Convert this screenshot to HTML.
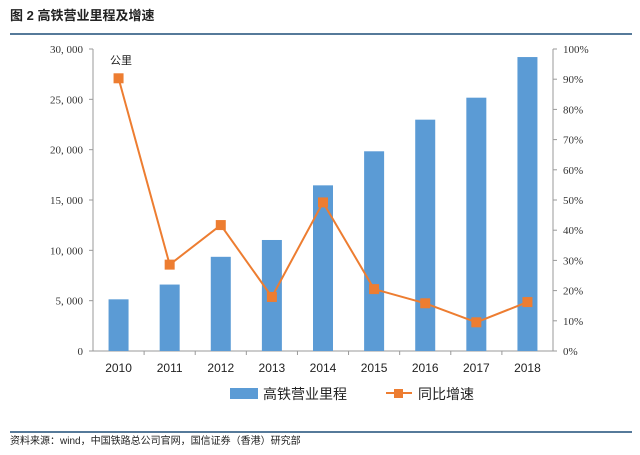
<!DOCTYPE html>
<html><head><meta charset="utf-8"><style>
body{margin:0;background:#fff;width:640px;height:450px;overflow:hidden;font-family:"Liberation Sans","Noto Sans CJK SC",sans-serif}
</style></head><body>
<svg width="640" height="450" xmlns="http://www.w3.org/2000/svg">
<text x="10" y="20" font-size="13" font-weight="bold" fill="#222" font-family="Liberation Sans,Noto Sans CJK SC,sans-serif">图 2  高铁营业里程及增速</text>
<line x1="10" y1="34" x2="632" y2="34" stroke="#1f4e79" stroke-width="1.5"/>
<line x1="10" y1="432" x2="632" y2="432" stroke="#1f4e79" stroke-width="1.5"/>
<text x="10" y="444" font-size="10" fill="#222" font-family="Liberation Sans,Noto Sans CJK SC,sans-serif">资料来源：wind，中国铁路总公司官网，国信证券（香港）研究部</text>
<text x="110" y="64" font-size="11" fill="#222" font-family="Liberation Sans,Noto Sans CJK SC,sans-serif">公里</text>
<g id="g"></g>
<rect x="230" y="388" width="28" height="11" fill="#5b9bd5"/>
<text x="263" y="399" font-size="14" fill="#222" font-family="Liberation Sans,Noto Sans CJK SC,sans-serif">高铁营业里程</text>
<line x1="386" y1="393" x2="412" y2="393" stroke="#ed7d31" stroke-width="2"/>
<rect x="394" y="389" width="9" height="9" fill="#ed7d31"/>
<text x="418" y="399" font-size="14" fill="#222" font-family="Liberation Sans,Noto Sans CJK SC,sans-serif">同比增速</text>
</svg>
<script>
const categories=["2010","2011","2012","2013","2014","2015","2016","2017","2018"];
const mileage=[5133,6601,9356,11028,16456,19838,22980,25164,29200];
const growth=[90.3,28.6,41.7,17.9,49.2,20.5,15.8,9.5,16.2];
const leftTicks=[0,5000,10000,15000,20000,25000,30000];
const rightTicks=[0,10,20,30,40,50,60,70,80,90,100];
const NS="http://www.w3.org/2000/svg",g=document.getElementById('g');
const X0=93,X1=553,Y0=351,Y1=49,bw=(X1-X0)/categories.length;
const yL=v=>Y0-(v/30000)*(Y0-Y1), yR=v=>Y0-(v/100)*(Y0-Y1), xc=i=>X0+bw*(i+0.5);
function mk(t,a){const e=document.createElementNS(NS,t);for(const k in a)e.setAttribute(k,a[k]);g.appendChild(e);return e;}
let e;
e=mk('line',{x1:X0,y1:Y1,x2:X0,y2:Y0,stroke:'#999'});


e=mk('line',{x1:X1,y1:Y1,x2:X1,y2:Y0,stroke:'#999'});


e=mk('line',{x1:X0,y1:Y0,x2:X1,y2:Y0,stroke:'#999'});


leftTicks.forEach(v=>{
 mk('line',{x1:X0-4,y1:yL(v),x2:X0,y2:yL(v),stroke:'#999'});
 e=mk('text',{x:X0-10,y:yL(v)+4,'font-size':11,'text-anchor':'end',fill:'#333','font-family':'Liberation Serif,serif'});
 e.textContent=v===0?'0':v.toLocaleString('en-US').replace(',',', ');
 
 
});
rightTicks.forEach(v=>{
 mk('line',{x1:X1,y1:yR(v),x2:X1+4,y2:yR(v),stroke:'#999'});
 e=mk('text',{x:X1+10,y:yR(v)+4,'font-size':11,fill:'#333','font-family':'Liberation Serif,serif'});
 e.textContent=v+'%';
 
 
});
categories.forEach((c,i)=>{
 if(i>0){mk('line',{x1:X0+bw*i,y1:Y0,x2:X0+bw*i,y2:Y0+4,stroke:'#999'});}
 e=mk('rect',{x:xc(i)-10,y:yL(mileage[i]),width:20,height:Y0-yL(mileage[i]),fill:'#5b9bd5'});
 
 
 e=mk('text',{x:xc(i),y:372,'font-size':12,'text-anchor':'middle',fill:'#222'});
 e.textContent=c;
 
 
});
e=mk('polyline',{points:growth.map((v,i)=>xc(i)+','+yR(v)).join(' '),fill:'none',stroke:'#ed7d31','stroke-width':2});


growth.forEach((v,i)=>{
 e=mk('rect',{x:xc(i)-5,y:yR(v)-5,width:10,height:10,fill:'#ed7d31'});
 
 
});
</script>
</body></html>
